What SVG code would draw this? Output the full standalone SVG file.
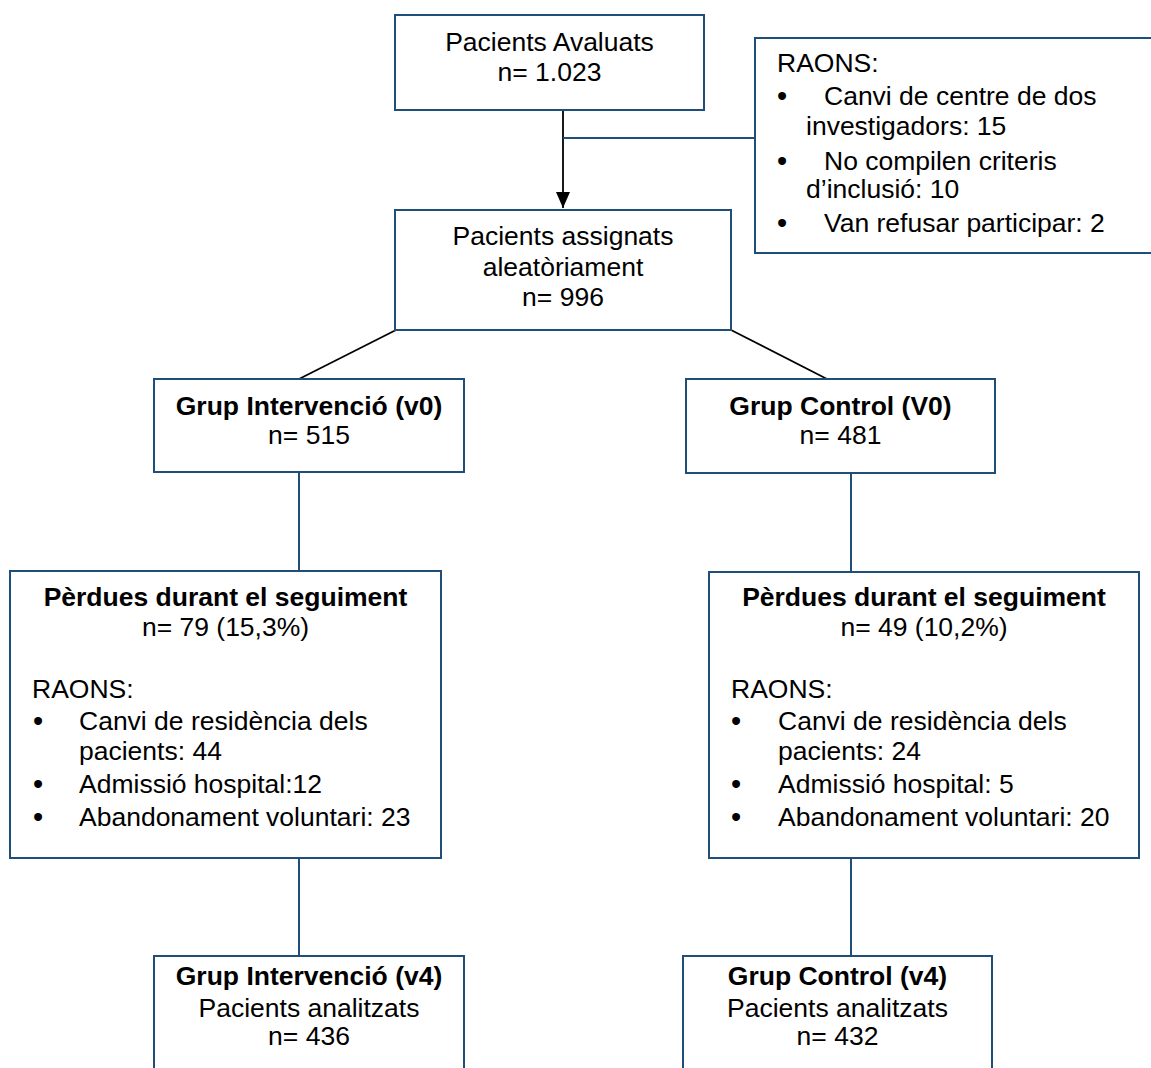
<svg xmlns="http://www.w3.org/2000/svg" width="1151" height="1068" viewBox="0 0 1151 1068">
<style>
  .box { fill: #ffffff; stroke: #1F4E79; stroke-width: 2; }
  .blue { fill: none; stroke: #1F4E79; stroke-width: 2; }
  .black { fill: none; stroke: #000000; stroke-width: 1.8; }
  text { font-family: "Liberation Sans", Arial, sans-serif; font-size: 26.5px; fill: #000000; }
  .c { text-anchor: middle; }
  .b { font-weight: bold; }
  .bul { font-size: 29px; text-anchor: middle; }
</style>
<defs>
  <marker id="arr" viewBox="0 0 16 14" refX="16" refY="7" markerWidth="16" markerHeight="14" markerUnits="userSpaceOnUse" orient="auto">
    <path d="M0,0 L16,7 L0,14 Z" fill="#000000"/>
  </marker>
</defs>
<rect width="1151" height="1068" fill="#ffffff"/>
<g id="connectors">
  <line class="black" x1="563" y1="110" x2="563" y2="208" marker-end="url(#arr)"/>
  <line class="blue" x1="563" y1="138" x2="755" y2="138"/>
  <line class="black" x1="396" y1="330" x2="299" y2="379"/>
  <line class="black" x1="731" y1="330" x2="827" y2="379"/>
  <line class="blue" x1="299" y1="472" x2="299" y2="572"/>
  <line class="blue" x1="851" y1="473" x2="851" y2="572"/>
  <line class="blue" x1="299" y1="858" x2="299" y2="956"/>
  <line class="blue" x1="851" y1="858" x2="851" y2="956"/>
</g>
<g id="node-avaluats">
  <rect class="box" x="395" y="15" width="309" height="95"/>
  <text class="c" x="549.5" y="51">Pacients Avaluats</text>
  <text class="c" x="549.5" y="81">n= 1.023</text>
</g>
<g id="node-raons-exclusio">
  <rect class="box" x="755" y="38" width="420" height="215"/>
  <text x="777" y="72">RAONS:</text>
  <text class="bul" x="782" y="106">•</text>
  <text x="824" y="105">Canvi de centre de dos</text>
  <text x="806" y="135">investigadors: 15</text>
  <text class="bul" x="782" y="171">•</text>
  <text x="824" y="170">No compilen criteris</text>
  <text x="806" y="198">d’inclusió: 10</text>
  <text class="bul" x="782" y="233">•</text>
  <text x="824" y="232">Van refusar participar: 2</text>
</g>
<g id="node-assignats">
  <rect class="box" x="395" y="210" width="336" height="120"/>
  <text class="c" x="563" y="245">Pacients assignats</text>
  <text class="c" x="563" y="276">aleatòriament</text>
  <text class="c" x="563" y="306">n= 996</text>
</g>
<g id="node-intervencio-v0">
  <rect class="box" x="154" y="379" width="310" height="93"/>
  <text class="c b" x="309" y="415">Grup Intervenció (v0)</text>
  <text class="c" x="309" y="444">n= 515</text>
</g>
<g id="node-control-v0">
  <rect class="box" x="686" y="379" width="309" height="94"/>
  <text class="c b" x="840.5" y="415">Grup Control (V0)</text>
  <text class="c" x="840.5" y="444">n= 481</text>
</g>
<g id="node-perdues-intervencio">
  <rect class="box" x="10" y="571" width="431" height="287"/>
  <text class="c b" x="225.5" y="606">Pèrdues durant el seguiment</text>
  <text class="c" x="225.5" y="636">n= 79 (15,3%)</text>
  <text x="32" y="698">RAONS:</text>
  <text class="bul" x="38" y="731">•</text>
  <text x="79" y="730">Canvi de residència dels</text>
  <text x="79" y="760">pacients: 44</text>
  <text class="bul" x="38" y="794">•</text>
  <text x="79" y="793">Admissió hospital:12</text>
  <text class="bul" x="38" y="827">•</text>
  <text x="79" y="826">Abandonament voluntari: 23</text>
</g>
<g id="node-perdues-control">
  <rect class="box" x="709" y="572" width="430" height="286"/>
  <text class="c b" x="924" y="606">Pèrdues durant el seguiment</text>
  <text class="c" x="924" y="636">n= 49 (10,2%)</text>
  <text x="731" y="698">RAONS:</text>
  <text class="bul" x="736" y="731">•</text>
  <text x="778" y="730">Canvi de residència dels</text>
  <text x="778" y="760">pacients: 24</text>
  <text class="bul" x="736" y="794">•</text>
  <text x="778" y="793">Admissió hospital: 5</text>
  <text class="bul" x="736" y="827">•</text>
  <text x="778" y="826">Abandonament voluntari: 20</text>
</g>
<g id="node-intervencio-v4">
  <rect class="box" x="154" y="956" width="310" height="130"/>
  <text class="c b" x="309" y="985">Grup Intervenció (v4)</text>
  <text class="c" x="309" y="1017">Pacients analitzats</text>
  <text class="c" x="309" y="1045">n= 436</text>
</g>
<g id="node-control-v4">
  <rect class="box" x="683" y="956" width="309" height="130"/>
  <text class="c b" x="837.5" y="985">Grup Control (v4)</text>
  <text class="c" x="837.5" y="1017">Pacients analitzats</text>
  <text class="c" x="837.5" y="1045">n= 432</text>
</g>
</svg>
